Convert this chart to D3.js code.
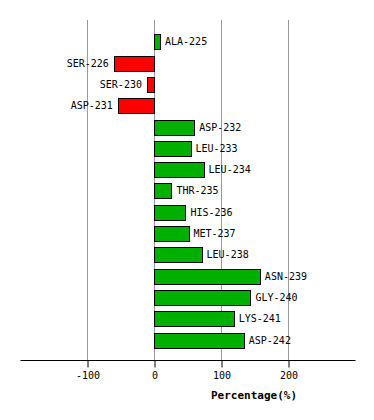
<!DOCTYPE html>
<html><head><meta charset="utf-8">
<script src="https://cdn.jsdelivr.net/npm/d3@7"></script>
<style>body{margin:0;background:#fff}svg{display:block}</style>
</head><body>
<script>
const categories = ["ALA-225","SER-226","SER-230","ASP-231","ASP-232","LEU-233","LEU-234","THR-235","HIS-236","MET-237","LEU-238","ASN-239","GLY-240","LYS-241","ASP-242"];
const values = [9, -60, -10.5, -54, 60, 54.5, 74, 26, 47, 51.5, 71, 158, 144, 119, 134];
const tickValues = [-100, 0, 100, 200];
const axisTitle = "Percentage(%)";

const W = 374, H = 420;
const svg = d3.select("body").append("svg").attr("width", W).attr("height", H);
const font = "'DejaVu Sans Mono', monospace";

const x = d3.scaleLinear().domain([-200, 300]).range([20, 355]);
const y = d3.scaleBand().domain(categories).range([31.1, 350.8]).paddingInner(0.3).paddingOuter(0.15);
const axisY = 360;

// grid
svg.append("g").selectAll("line").data(tickValues).join("line")
  .attr("x1", d => Math.round(x(d)) + 0.5).attr("x2", d => Math.round(x(d)) + 0.5)
  .attr("y1", 20).attr("y2", axisY)
  .attr("stroke", "#999").attr("stroke-width", 1);

// bars
const data = categories.map((c, i) => ({c, v: values[i]}));
svg.append("g").selectAll("rect").data(data).join("rect")
  .attr("x", d => Math.round(x(Math.min(0, d.v))) + 0.5)
  .attr("width", d => Math.abs(Math.round(x(d.v)) - Math.round(x(0))))
  .attr("y", d => Math.round(y(d.c)) + 0.5)
  .attr("height", Math.round(y.bandwidth()))
  .attr("fill", d => d.v >= 0 ? "#00b000" : "#ff0000")
  .attr("stroke", "#000").attr("stroke-width", 1);

// labels
svg.append("g").selectAll("text").data(data).join("text")
  .attr("x", d => d.v >= 0 ? x(d.v) + 5 : x(d.v) - 5)
  .attr("y", d => y(d.c) + y.bandwidth() / 2)
  .attr("dy", "0.35em")
  .attr("text-anchor", d => d.v >= 0 ? "start" : "end")
  .attr("font-family", font).attr("font-size", 10).attr("fill", "#000")
  .text(d => d.c);

// axis
const axis = d3.axisBottom(x).tickValues(tickValues).tickSize(7).tickPadding(4)
  .tickFormat(d => d < 0 ? "-" + Math.abs(d) : String(d));
const ag = svg.append("g").attr("transform", `translate(0.5,${axisY + 0.5})`).call(axis);
ag.select(".domain").attr("d", `M${x(-200)},0H${x(300)}`).attr("stroke", "#000");
ag.selectAll(".tick line").attr("stroke", "#000");
ag.selectAll(".tick text").attr("font-family", font).attr("font-size", 10).attr("fill", "#000");

svg.append("text").attr("x", 254).attr("y", 395).attr("dy", "0.35em")
  .attr("text-anchor", "middle").attr("font-family", font).attr("font-size", 11)
  .attr("font-weight", "bold").attr("fill", "#000").text(axisTitle);
</script>
</body></html>
